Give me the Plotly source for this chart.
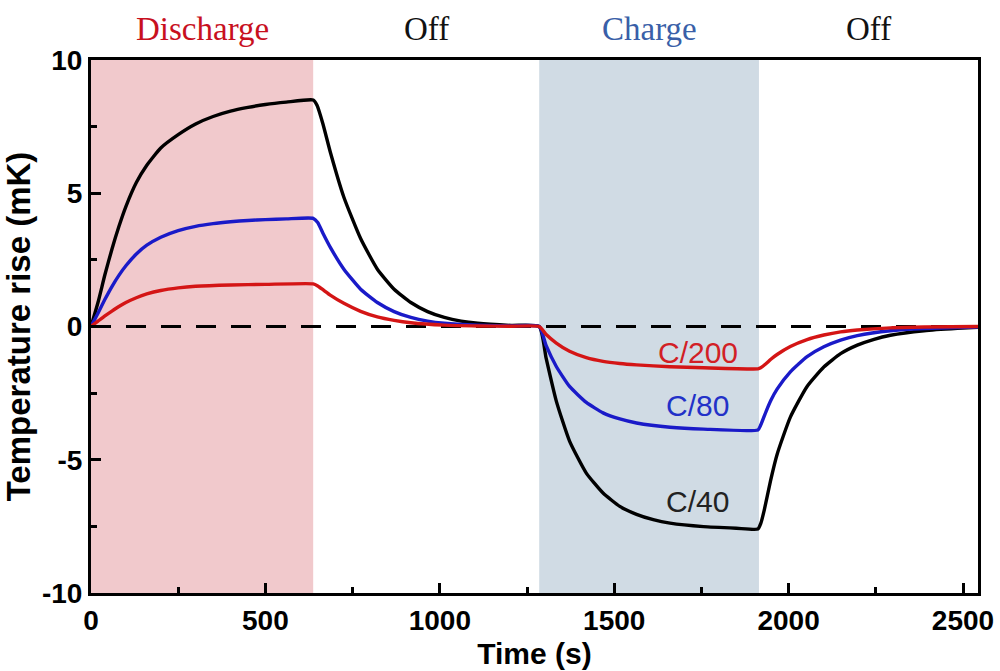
import plotly.graph_objects as go

# ---- data ----
t_black = [0, 20, 40, 60, 80, 100, 130, 160, 200, 250, 300, 350, 400, 450, 500, 560, 637,
           648, 665, 687, 725, 773, 821, 869, 917, 965, 1013, 1061, 1109, 1205, 1285,
           1305, 1334, 1372, 1420, 1468, 1516, 1564, 1612, 1660, 1756, 1850, 1912,
           1920, 1930, 1948, 1967, 2005, 2053, 2101, 2149, 2197, 2245, 2292, 2388, 2484, 2543]
v_black = [0, 0.9, 1.95, 2.9, 3.75, 4.5, 5.4, 6.05, 6.7, 7.2, 7.6, 7.88, 8.08, 8.22, 8.33, 8.42, 8.5,
           8.3, 7.6, 6.5, 4.85, 3.3, 2.15, 1.4, 0.9, 0.56, 0.34, 0.2, 0.12, 0.04, 0,
           -1.2, -2.8, -4.3, -5.5, -6.25, -6.75, -7.05, -7.25, -7.38, -7.51, -7.57, -7.6,
           -7.4, -6.9, -5.8, -4.8, -3.4, -2.25, -1.52, -1.02, -0.7, -0.48, -0.33, -0.16, -0.07, -0.03]

t_blue = [0, 20, 40, 60, 80, 100, 130, 160, 200, 250, 300, 350, 400, 450, 500, 560, 637,
          650, 665, 687, 725, 773, 821, 869, 917, 965, 1013, 1109, 1205, 1285,
          1305, 1334, 1372, 1420, 1468, 1516, 1564, 1660, 1756, 1912,
          1920, 1935, 1950, 1967, 2005, 2053, 2101, 2149, 2197, 2292, 2388, 2484, 2543]
v_blue = [0, 0.5, 1.02, 1.5, 1.92, 2.28, 2.72, 3.05, 3.35, 3.6, 3.76, 3.86, 3.93, 3.98, 4.01, 4.04, 4.06,
          3.9, 3.5, 2.95, 2.15, 1.4, 0.9, 0.56, 0.34, 0.2, 0.12, 0.05, 0.02, 0,
          -0.72, -1.5, -2.25, -2.85, -3.24, -3.47, -3.62, -3.78, -3.85, -3.88,
          -3.7, -3.2, -2.75, -2.35, -1.7, -1.13, -0.76, -0.51, -0.34, -0.16, -0.08, -0.04, -0.02]

t_red = [0, 20, 40, 60, 80, 100, 130, 160, 200, 250, 300, 400, 500, 637,
         650, 665, 687, 725, 773, 821, 869, 917, 1013, 1109, 1205, 1285,
         1305, 1334, 1372, 1420, 1468, 1516, 1564, 1660, 1756, 1912,
         1920, 1935, 1950, 1967, 2005, 2053, 2101, 2149, 2197, 2292, 2388, 2543]
v_red = [0, 0.2, 0.4, 0.58, 0.75, 0.9, 1.08, 1.22, 1.35, 1.45, 1.51, 1.56, 1.58, 1.6,
         1.52, 1.38, 1.17, 0.87, 0.57, 0.36, 0.23, 0.14, 0.05, 0.02, 0.01, 0,
         -0.3, -0.62, -0.93, -1.17, -1.31, -1.39, -1.44, -1.51, -1.55, -1.59,
         -1.55, -1.4, -1.22, -1.05, -0.75, -0.49, -0.32, -0.2, -0.13, -0.05, -0.02, 0]

phase_names = ["Discharge", "Off", "Charge", "Off"]
phase_bounds = [0, 637, 1285, 1915, 2543]
phase_colors = ["#c8101e", "#111111", "#3a5fa8", "#111111"]

rate_labels = ["C/200", "C/80", "C/40"]
rate_label_t = [1740, 1740, 1740]
rate_label_v = [-0.96, -2.95, -6.58]
rate_label_colors = ["#d21f26", "#2231c8", "#222222"]

x_range = [0, 2543]
y_range = [-10, 10]
y_tickvals = [-10, -5, 0, 5, 10]
y_ticktext = ["-10", "-5", "0", "5", "10"]

FONT = "Liberation Sans, Arial, sans-serif"
SERIF = "Liberation Serif, Times New Roman, serif"

fig = go.Figure()

# shaded phases
fig.add_shape(type="rect", xref="x", yref="y", x0=phase_bounds[0], x1=phase_bounds[1],
              y0=y_range[0], y1=y_range[1], fillcolor="#f1c9cc", line_width=0, layer="below")
fig.add_shape(type="rect", xref="x", yref="y", x0=phase_bounds[2], x1=phase_bounds[3],
              y0=y_range[0], y1=y_range[1], fillcolor="#d0dbe4", line_width=0, layer="below")

# zero dashed line
fig.add_trace(go.Scatter(x=x_range, y=[0, 0], mode="lines",
                         line=dict(color="black", width=3, dash="20px,15px"), hoverinfo="skip"))

for t, v, c in [(t_black, v_black, "#000000"), (t_blue, v_blue, "#1a1ac8"), (t_red, v_red, "#d41515")]:
    fig.add_trace(go.Scatter(x=t, y=v, mode="lines",
                             line=dict(color=c, width=3.4, shape="spline", smoothing=0.5)))

# phase titles
for i, name in enumerate(phase_names):
    fig.add_annotation(x=(phase_bounds[i] + phase_bounds[i + 1]) / 2, y=1.058,
                       xref="x", yref="paper", text=name, showarrow=False,
                       font=dict(family=SERIF, size=33, color=phase_colors[i]),
                       xanchor="center", yanchor="middle")

# rate labels
for lab, tx, vy, col in zip(rate_labels, rate_label_t, rate_label_v, rate_label_colors):
    fig.add_annotation(x=tx, y=vy, xref="x", yref="y", text=lab, showarrow=False,
                       font=dict(family=FONT, size=30, color=col),
                       xanchor="center", yanchor="middle")

axis_common = dict(showline=True, linecolor="black", linewidth=3, mirror=True,
                   ticks="inside", ticklen=10, tickwidth=2.5, tickcolor="black",
                   showgrid=False, zeroline=False, automargin=False,
                   tickfont=dict(family=FONT, size=28, color="black", weight="bold"))

fig.update_xaxes(range=x_range, dtick=500, tick0=0,
                 minor=dict(ticks="inside", ticklen=6, tickwidth=2.5, tickcolor="black", dtick=250),
                 title=dict(text="Time (s)", font=dict(family=FONT, size=30, color="black", weight="bold"),
                            standoff=9),
                 **axis_common)
fig.update_yaxes(range=y_range, tickvals=y_tickvals, ticktext=y_ticktext,
                 minor=dict(ticks="inside", ticklen=6, tickwidth=2.5, tickcolor="black", dtick=2.5),
                 title=dict(text="Temperature rise (mK)", font=dict(family=FONT, size=33, color="black", weight="bold"),
                            standoff=6),
                 **axis_common)

fig.update_layout(width=1000, height=671, margin=dict(l=91, r=22, t=60, b=78),
                  plot_bgcolor="white", paper_bgcolor="white", showlegend=False)

fig.write_html("out.html")
